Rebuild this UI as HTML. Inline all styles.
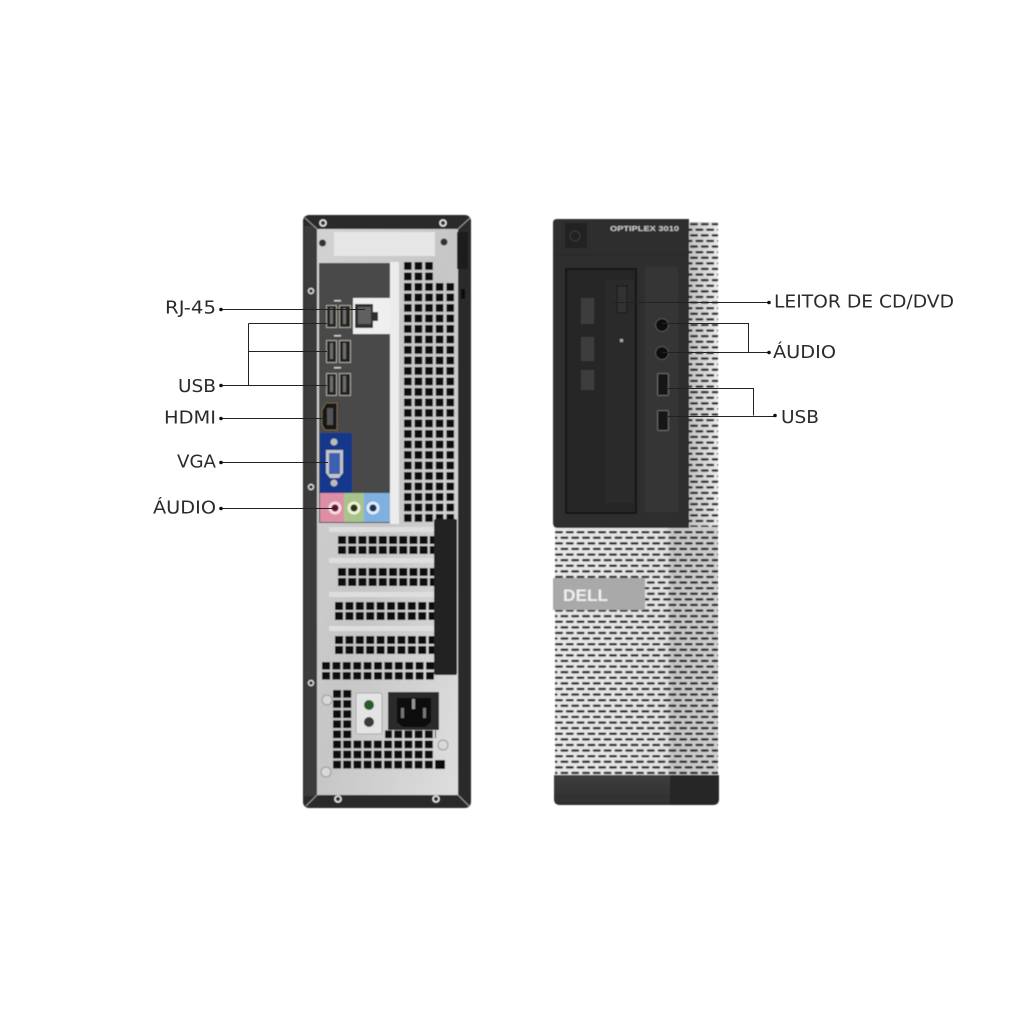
<!DOCTYPE html>
<html><head><meta charset="utf-8"><style>html,body{margin:0;padding:0;background:#fff}svg{display:block}</style></head><body>
<svg xmlns="http://www.w3.org/2000/svg" width="1024" height="1024" viewBox="0 0 1024 1024">
<defs>
<pattern id="g1" patternUnits="userSpaceOnUse" x="404" y="262" width="10.6" height="10.5"><rect width="7.6" height="7.8" fill="#0c0c0c"/></pattern>
<pattern id="g2" patternUnits="userSpaceOnUse" x="338" y="536" width="10.2" height="10"><rect width="8" height="8" fill="#0c0c0c"/></pattern>
<pattern id="g3" patternUnits="userSpaceOnUse" x="335" y="602" width="10.4" height="10"><rect width="8" height="8" fill="#0c0c0c"/></pattern>
<pattern id="g4" patternUnits="userSpaceOnUse" x="322" y="662" width="10.4" height="10"><rect width="8" height="7.6" fill="#0c0c0c"/></pattern>
<pattern id="g5" patternUnits="userSpaceOnUse" x="333" y="690" width="10.2" height="10.1"><rect width="8" height="7.8" fill="#0c0c0c"/></pattern>
<pattern id="m" patternUnits="userSpaceOnUse" x="555" y="531" width="10.8" height="11.2"><rect x="0" y="0" width="8" height="2.3" rx="1.1" fill="#262626"/><rect x="5.4" y="5.6" width="8" height="2.3" rx="1.1" fill="#262626"/><rect x="-5.4" y="5.6" width="8" height="2.3" rx="1.1" fill="#262626"/></pattern>
<linearGradient id="side" x1="0" x2="1" y1="0" y2="0"><stop offset="0" stop-color="#c4c4c4"/><stop offset=".5" stop-color="#d6d6d6"/><stop offset="1" stop-color="#ececec"/></linearGradient>
<linearGradient id="sil" x1="0" x2="1" y1="0" y2="1"><stop offset="0" stop-color="#d2d2d2"/><stop offset=".5" stop-color="#c6c6c6"/><stop offset="1" stop-color="#dedede"/></linearGradient>
<linearGradient id="front" x1="0" x2="1" y1="0" y2="0"><stop offset="0" stop-color="#e8e8e8"/><stop offset=".68" stop-color="#e2e2e2"/><stop offset=".72" stop-color="#c4c4c4"/><stop offset="1" stop-color="#d0d0d0"/></linearGradient>
<linearGradient id="base" x1="0" x2="0" y1="0" y2="1"><stop offset="0" stop-color="#3e3e3e"/><stop offset="1" stop-color="#2e2e2e"/></linearGradient>
<filter id="b" x="-5%" y="-5%" width="110%" height="110%"><feGaussianBlur stdDeviation="0.5"/></filter>
</defs>

<g filter="url(#b)">
<!-- BACK -->
<rect x="303" y="215" width="168" height="593" rx="6" fill="#2a2a2a"/>
<rect x="304" y="226" width="13" height="570" fill="#3a3a3a"/>
<rect x="317" y="229" width="141" height="566" fill="url(#sil)"/>
<rect x="334" y="232" width="101" height="24" fill="#e6e6e6"/>
<path d="M317 229L305 218M458 229L470 218M317 795L306 806M458 795L469 806" stroke="#999" stroke-width="1"/>
<circle cx="323" cy="223" r="3" fill="#333" stroke="#e8e8e8" stroke-width="1.6"/>
<circle cx="443" cy="223" r="3" fill="#333" stroke="#e8e8e8" stroke-width="1.6"/>
<circle cx="322.5" cy="243" r="3.5" fill="#333"/><circle cx="444" cy="242" r="3.5" fill="#333"/>
<rect x="457" y="232" width="11" height="37" fill="#1a1a1a"/>
<rect x="461" y="289" width="4" height="10" fill="#111"/>
<circle cx="311" cy="291" r="2.500" fill="#333" stroke="#ddd" stroke-width="1.400"/>
<circle cx="311" cy="487" r="2.500" fill="#333" stroke="#ddd" stroke-width="1.400"/>
<circle cx="311" cy="683" r="2.500" fill="#333" stroke="#ddd" stroke-width="1.400"/>
<circle cx="338" cy="799" r="3" fill="#333" stroke="#e8e8e8" stroke-width="1.600"/>
<circle cx="436" cy="799" r="3" fill="#333" stroke="#e8e8e8" stroke-width="1.600"/>

<!-- I/O panel -->
<rect x="319" y="263" width="71" height="260" fill="#484848"/>
<rect x="390" y="262" width="9" height="262" fill="#ececec"/>
<rect x="404" y="262" width="31" height="21" fill="url(#g1)"/>
<rect x="404" y="283" width="51" height="240" fill="url(#g1)"/>

<rect x="353" y="298" width="37" height="36" fill="#efefef"/>
<path d="M355 304H373V312H378V321H373V328H355Z" fill="#2e2e2e"/>
<rect x="358" y="307" width="13" height="17" fill="#606060"/>

<g fill="#242424" stroke="#a8a598" stroke-width="1">
<rect x="326.500" y="305.500" width="10" height="22"/><rect x="339.500" y="305.500" width="11" height="22"/>
<rect x="326.500" y="340.500" width="10" height="22"/><rect x="339.500" y="340.500" width="11" height="22"/>
<rect x="326.500" y="373.500" width="10" height="22"/><rect x="339.500" y="373.500" width="11" height="22"/>
</g>
<g fill="#6e6e6e">
<rect x="330" y="308" width="3" height="16"/><rect x="343" y="308" width="3" height="16"/>
<rect x="330" y="343" width="3" height="16"/><rect x="343" y="343" width="3" height="16"/>
<rect x="330" y="376" width="3" height="16"/><rect x="343" y="376" width="3" height="16"/>
</g>
<g fill="#ccc"><rect x="334" y="300" width="7" height="1.500"/><rect x="334" y="335" width="7" height="1.500"/><rect x="334" y="367" width="7" height="1.500"/></g>
<path d="M326 403H337V430H325L322 425V410Z" fill="#151515" stroke="#8a7048" stroke-width=".8"/>
<rect x="327" y="408" width="6" height="17" fill="#555"/>

<rect x="320" y="433" width="32" height="60" fill="#12378c"/>
<path d="M326 450H343V473L339 478H330L326 473Z" fill="#c4c4c4"/>
<rect x="329" y="453" width="11" height="21" fill="#3d5fb0"/>
<circle cx="334" cy="442" r="3.500" fill="#bbb"/><circle cx="334" cy="483" r="3.500" fill="#bbb"/>
<rect x="320" y="493" width="24" height="29" fill="#dd8fa6"/>
<rect x="344" y="493" width="20" height="29" fill="#a9c48b"/>
<rect x="364" y="493" width="26" height="29" fill="#7fb0e0"/>
<circle cx="335" cy="508" r="6.500" fill="#f5dbe2"/><circle cx="335" cy="508" r="3.600" fill="#6a1029"/>
<circle cx="354" cy="508" r="6.500" fill="#ecf2d8"/><circle cx="354" cy="508" r="3.600" fill="#2d3314"/>
<circle cx="373" cy="508" r="6.500" fill="#e0ecf8"/><circle cx="373" cy="508" r="3.600" fill="#12325e"/>

<!-- card slots -->
<path d="M329 527H434V532H329ZM329 558H434V563H329ZM329 592H434V597H329ZM329 626H434V631H329Z" fill="#dedede"/>
<rect x="338" y="536" width="96" height="18" fill="url(#g2)"/>
<g transform="translate(0,32)"><rect x="338" y="536" width="96" height="18" fill="url(#g2)"/></g>
<rect x="335" y="602" width="99" height="18" fill="url(#g3)"/>
<g transform="translate(0,34)"><rect x="335" y="602" width="99" height="18" fill="url(#g3)"/></g>
<rect x="322" y="662" width="112" height="18" fill="url(#g4)"/>
<rect x="434" y="519" width="23" height="156" rx="2" fill="#202020"/>

<!-- PSU -->
<rect x="333" y="690" width="20" height="50" fill="url(#g5)"/>
<rect x="385" y="730" width="51" height="9" fill="url(#g5)"/>
<rect x="333" y="740" width="102" height="30" fill="url(#g5)"/>
<rect x="435" y="760" width="10" height="9" fill="#0c0c0c"/>
<rect x="356" y="693" width="26" height="41" rx="2" fill="#e4e4e4" stroke="#aaa"/>
<circle cx="369" cy="705" r="5" fill="#2a5a2c"/>
<circle cx="369" cy="722" r="5" fill="#3a3a3a"/>
<rect x="388" y="692" width="51" height="38" fill="#2a2a2a"/>
<path d="M397 698H431V722L425 727H403L397 722Z" fill="#0c0c0c"/>
<rect x="412" y="699" width="3" height="10" fill="#999"/><rect x="401" y="708" width="3" height="10" fill="#777"/><rect x="423" y="708" width="3" height="10" fill="#777"/>
<circle cx="327" cy="700" r="5" fill="#d8d8d8" stroke="#999"/><circle cx="443" cy="745" r="5" fill="#d8d8d8" stroke="#999"/><circle cx="326" cy="772" r="5" fill="#d8d8d8" stroke="#999"/>

<!-- FRONT mesh -->
<rect x="689" y="222" width="29" height="306" fill="url(#side)"/>
<rect x="689" y="222" width="29" height="306" fill="url(#m)"/>
<rect x="555" y="527" width="163" height="250" fill="url(#front)"/>
<rect x="555" y="530" width="163" height="246" fill="url(#m)"/>
<!-- base -->
<path d="M554 775H670V805H560Q554 805 554 799Z" fill="url(#base)"/>
<path d="M670 775H719V799Q719 805 713 805H670Z" fill="#282828"/>
<!-- badge -->
<rect x="553" y="578" width="92" height="32" rx="1" fill="#a9a9a9"/>
<text x="563" y="601" font-family="'Liberation Sans',sans-serif" font-size="17" font-weight="700" fill="#efefef" textLength="45" lengthAdjust="spacingAndGlyphs">DELL</text>

<!-- front bezel -->
<path d="M557 219H689V528H558Q553 528 553 523V223Q553 219 557 219Z" fill="#2e2e2e"/>
<rect x="553" y="254" width="136" height="1" fill="#262626"/>
<rect x="565" y="223" width="22" height="25" rx="2" fill="#232323"/>
<circle cx="575" cy="236" r="5" fill="none" stroke="#383838" stroke-width="1.2"/>
<text x="610" y="231" font-family="'Liberation Sans',sans-serif" font-size="7.500" font-weight="700" fill="#c8c8c8" textLength="69" lengthAdjust="spacingAndGlyphs">OPTIPLEX 3010</text>
<rect x="566" y="269" width="70" height="244" fill="#282828" stroke="#0e0e0e" stroke-width="1.500"/>
<rect x="570" y="280" width="35" height="223" fill="#272727"/>
<rect x="605" y="280" width="29" height="223" fill="#2c2c2c"/>
<g fill="#3c3c3c"><rect x="581" y="298" width="13" height="26"/><rect x="581" y="337" width="13" height="24"/><rect x="581" y="370" width="13" height="20"/></g>
<rect x="617" y="286" width="10" height="27" fill="#333" stroke="#141414"/>
<rect x="620" y="339" width="3" height="3" fill="#aaa"/>
<rect x="645" y="267" width="33" height="245" fill="#353535"/>
<circle cx="662" cy="325" r="6.500" fill="#111" stroke="#555"/>
<circle cx="662" cy="353" r="6.500" fill="#111" stroke="#555"/>
<rect x="657.500" y="373.500" width="11" height="22" rx="1" fill="#151515" stroke="#6a6a6a"/>
<rect x="657.500" y="410.500" width="11" height="20" rx="1" fill="#151515" stroke="#6a6a6a"/>
</g>

<!-- connectors -->
<g fill="none" stroke="#222" stroke-width="1">
<path d="M221 309.500H365"/>
<path d="M221 385.500H327M248.500 323.500V385.500M248.500 323.500H327M248.500 351.500H327"/>
<path d="M221 418.500H325"/>
<path d="M221 462.500H328"/>
<path d="M221 508.500H335"/>
<path d="M613 302.500H769"/>
<path d="M662 323.500H748.500V352.500M662 352.500H769"/>
<path d="M666 388.500H753.500V415.500M666 416.500H775"/>
</g>
<g fill="#111">
<circle cx="221" cy="309.500" r="1.800"/><circle cx="221" cy="385.500" r="1.800"/><circle cx="221" cy="418.500" r="1.800"/><circle cx="221" cy="462.500" r="1.800"/><circle cx="221" cy="508.500" r="1.800"/>
<circle cx="769" cy="302.500" r="1.800"/><circle cx="769" cy="352.500" r="1.800"/><circle cx="775" cy="415.500" r="1.800"/>
</g>

<g font-family="'DejaVu Sans',sans-serif" font-size="17.500" fill="#2b2b2b">
<text x="165" y="313.500" textLength="51" lengthAdjust="spacingAndGlyphs">RJ-45</text>
<text x="178" y="392" textLength="38" lengthAdjust="spacingAndGlyphs">USB</text>
<text x="164" y="423.500" textLength="52" lengthAdjust="spacingAndGlyphs">HDMI</text>
<text x="177" y="467.500" textLength="39" lengthAdjust="spacingAndGlyphs">VGA</text>
<text x="153" y="513.500" textLength="63" lengthAdjust="spacingAndGlyphs">ÁUDIO</text>
<text x="774" y="307.500" textLength="180" lengthAdjust="spacingAndGlyphs">LEITOR DE CD/DVD</text>
<text x="773" y="358" textLength="63" lengthAdjust="spacingAndGlyphs">ÁUDIO</text>
<text x="781" y="423" textLength="38" lengthAdjust="spacingAndGlyphs">USB</text>
</g>
</svg>
</body></html>
